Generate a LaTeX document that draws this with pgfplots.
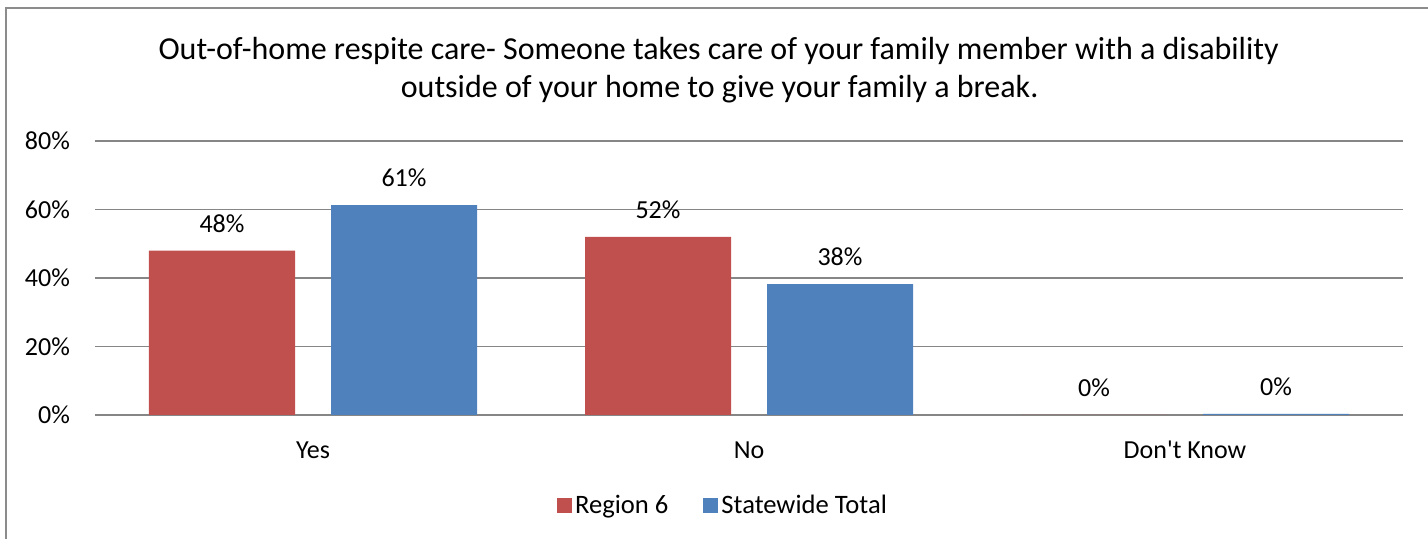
\documentclass[border=0pt]{standalone}
\usepackage{pgfplots}
\pgfplotsset{compat=1.18}
\usepackage{fontspec}
\setmainfont{Carlito}
\definecolor{regred}{HTML}{C0504D}
\definecolor{stblue}{HTML}{4F81BD}
\definecolor{gridgray}{RGB}{134,134,134}
\definecolor{framegray}{RGB}{140,140,140}
\begin{document}
\begin{tikzpicture}
\path[use as bounding box] (0,0) rectangle (714pt,269.5pt);
\draw[framegray, line width=1pt] (3pt,-5pt) -- (3pt,265.5pt) -- (720pt,265.5pt);
\node[anchor=base, inner sep=0pt, font=\fontsize{16}{19}\selectfont] at (359.3pt,239.5pt)
  {Out-of-home respite care- Someone takes care of your family member with a disability};
\node[anchor=base, inner sep=0pt, font=\fontsize{16}{19}\selectfont] at (359.8pt,220.5pt)
  {outside of your home to give your family a break.};
\begin{axis}[
  at={(47.5pt,62pt)}, anchor=south west,
  scale only axis, width=654pt, height=137pt,
  ybar=18pt, bar width=73pt,
  xmin=-0.5, xmax=2.5, ymin=0, ymax=80,
  xtick=data, xticklabels={Yes,No,Don\textquotesingle t Know},
  ytick={0,20,40,60,80}, yticklabel={\pgfmathprintnumber{\tick}\%},
  /pgf/number format/assume math mode=true,
  axis line style={draw=none},
  major tick length=0pt,
  ymajorgrids, grid style={gridgray, line width=0.8pt},
  tick label style={font=\fontsize{13}{15}\selectfont},
  yticklabel style={xshift=-9pt},
  xticklabel style={text height=9pt, text depth=3pt, yshift=-9pt},
  nodes near coords={\pgfmathprintnumber[fixed,precision=0]{\pgfplotspointmeta}\%},
  every node near coord/.append style={font=\fontsize{13}{15}\selectfont, anchor=center, yshift=13.5pt, text=black},
  legend columns=2,
  legend style={draw=none, at={(0.4805,-0.332)}, anchor=center,
    font=\fontsize{13.3}{15}\selectfont,
    /tikz/every even column/.append style={column sep=16pt},
    nodes={inner sep=1.5pt}},
  legend image code/.code={\fill[#1] (0pt,-3.75pt) rectangle (7.5pt,3.75pt);},
  clip=false,
]
\addplot[fill=regred, draw=none] coordinates {(0,48) (1,52) (2,0)};
\addplot[fill=stblue, draw=none] coordinates {(0,61.3) (1,38.2) (2,0.3)};
\legend{Region 6, Statewide Total}
\end{axis}
\end{tikzpicture}
\end{document}
